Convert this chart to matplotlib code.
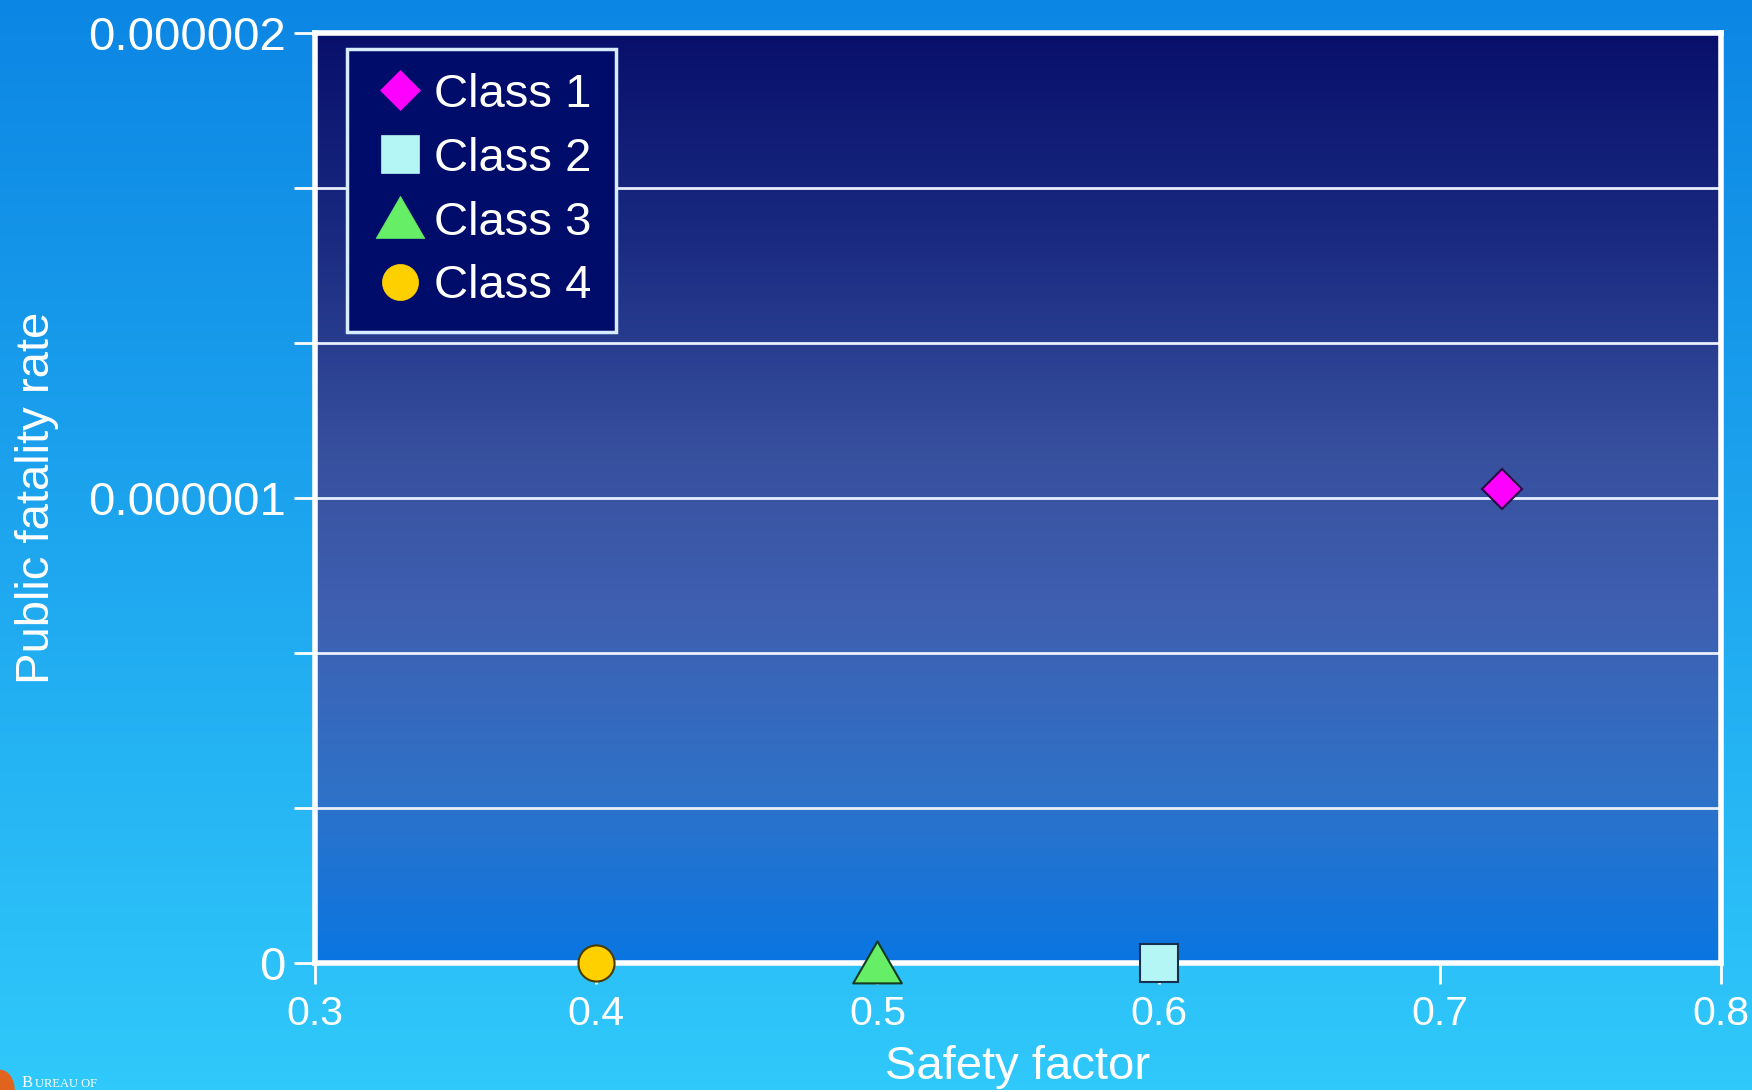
import numpy as np
import matplotlib
matplotlib.use("Agg")
import matplotlib.pyplot as plt
from matplotlib.lines import Line2D
from matplotlib.path import Path
from matplotlib.patches import Ellipse
from matplotlib.colors import LinearSegmentedColormap

# ---- data ----
classes = ["Class 1", "Class 2", "Class 3", "Class 4"]
safety_factor = [0.722, 0.6, 0.5, 0.4]
fatality_rate = [1.02e-6, 0.0, 0.0, 0.0]

x_ticks = [0.3, 0.4, 0.5, 0.6, 0.7, 0.8]
x_tick_labels = ["0.3", "0.4", "0.5", "0.6", "0.7", "0.8"]
y_ticks = [0, 1e-6 / 3, 2e-6 / 3, 1e-6, 4e-6 / 3, 5e-6 / 3, 2e-6]
y_tick_labels = ["0", "", "", "0.000001", "", "", "0.000002"]

# ---- styles ----
tri = Path([(-0.55, -0.45), (0.55, -0.45), (0.0, 0.5), (-0.55, -0.45)],
           [Path.MOVETO, Path.LINETO, Path.LINETO, Path.CLOSEPOLY])
styles = {
    "Class 1": dict(marker="D", ms=20, mfc="#ff00ff", mec="#2a0a45"),
    "Class 2": dict(marker="s", ms=27, mfc="#b4f6f6", mec="#17304f"),
    "Class 3": dict(marker=tri, ms=35, mfc="#66ee66", mec="#143c24"),
    "Class 4": dict(marker="o", ms=26, mfc="#ffd000", mec="#4a3c00"),
}

FONT = ["Liberation Sans", "DejaVu Sans"]
SERIF = ["Liberation Serif", "DejaVu Serif"]
plt.rcParams["font.family"] = FONT

fig = plt.figure(figsize=(17.52, 10.90), dpi=100)

# page background: vertical gradient
bg = fig.add_axes([0, 0, 1, 1], zorder=-10)
bg_cmap = LinearSegmentedColormap.from_list(
    "page", [(0.0, "#0c86e4"), (0.5, "#1ea6ef"), (1.0, "#30c9fb")])
bg.imshow(np.linspace(0, 1, 256).reshape(-1, 1), cmap=bg_cmap,
          aspect="auto", extent=[0, 1, 0, 1], origin="upper")
bg.set_axis_off()

# small logo at the bottom-left corner
bg.add_patch(Ellipse((0.0, 0.0), 0.016, 0.036, color="#e0641e",
                     transform=bg.transAxes, clip_on=False))
bg.text(0.0125, 0.003, "B", color="white", fontsize=12, family=SERIF,
        transform=bg.transAxes, va="baseline", ha="left")
bg.text(0.0198, 0.003, "UREAU OF", color="white", fontsize=9, family=SERIF,
        transform=bg.transAxes, va="baseline", ha="left")

ax = fig.add_axes([0.1798, 0.1165, 0.8025, 0.8528])

# plot-area background: vertical gradient
plot_cmap = LinearSegmentedColormap.from_list(
    "plot", [(0.0, "#08106c"), (0.22, "#1a2a80"), (0.45, "#37509e"),
             (0.62, "#3f5fb0"), (0.82, "#2e72c8"), (1.0, "#0a76e2")])
ax.imshow(np.linspace(0, 1, 256).reshape(-1, 1), cmap=plot_cmap,
          aspect="auto", extent=[0, 1, 0, 1], origin="upper",
          transform=ax.transAxes, zorder=0)

ax.set_xlim(0.3, 0.8)
ax.set_ylim(0, 2e-6)

for name, x, y in zip(classes, safety_factor, fatality_rate):
    st = styles[name]
    ax.plot([x], [y], linestyle="none", marker=st["marker"], markersize=st["ms"],
            markerfacecolor=st["mfc"], markeredgecolor=st["mec"],
            markeredgewidth=1.5, clip_on=False, zorder=5, label=name)

ax.set_xticks(x_ticks)
ax.set_xticklabels(x_tick_labels)
ax.set_yticks(y_ticks)
ax.set_yticklabels(y_tick_labels)

ax.grid(axis="y", color="#e8f0ff", linewidth=2, zorder=1)
ax.set_axisbelow(False)
ax.tick_params(axis="both", colors="white", direction="out", length=15, width=2)
ax.tick_params(axis="x", labelsize=29.5, pad=8)
ax.tick_params(axis="y", labelsize=34, pad=6)
for side in ["left", "right", "top", "bottom"]:
    ax.spines[side].set_color("white")
    ax.spines[side].set_linewidth(4)
    ax.spines[side].set_zorder(4)

ax.set_xlabel("Safety factor", fontsize=34, color="white", labelpad=9)
ax.set_ylabel("Public fatality rate", fontsize=34, color="white", labelpad=21)

handles = [Line2D([], [], linestyle="none", marker=styles[n]["marker"],
                  markersize=styles[n]["ms"],
                  markerfacecolor=styles[n]["mfc"],
                  markeredgecolor=styles[n]["mfc"], markeredgewidth=0.5)
           for n in classes]
leg = ax.legend(handles, classes, loc="upper left",
                bbox_to_anchor=(0.0228, 0.983), borderaxespad=0,
                fontsize=34, frameon=True, fancybox=False, framealpha=1,
                facecolor="#000c6a", edgecolor="#d8ecff",
                labelspacing=0.42, handlelength=1.25, handletextpad=0.1,
                borderpad=0.5)
leg.get_frame().set_linewidth(2.5)
leg.set_zorder(6)
for t in leg.get_texts():
    t.set_color("white")

fig.savefig("out.png", dpi=100)
